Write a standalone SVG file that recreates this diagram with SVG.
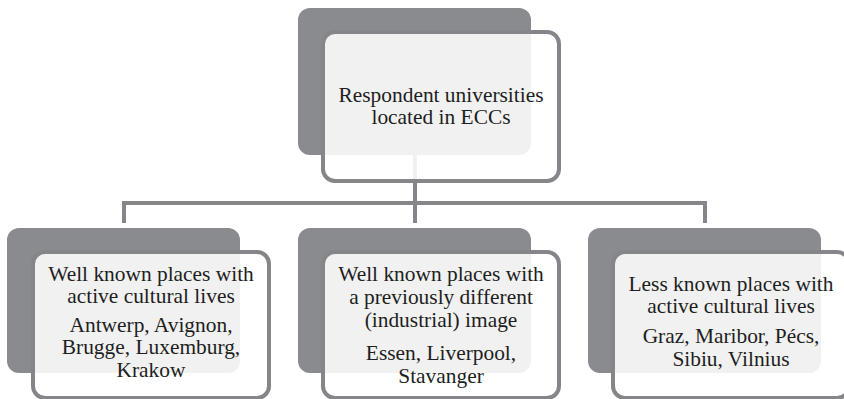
<svg xmlns="http://www.w3.org/2000/svg" width="844" height="399" viewBox="0 0 844 399">
<style>
.back{fill:#8a8b8f;}
.front{fill:#ffffff;fill-opacity:0.88;stroke:#85868a;stroke-width:4;}
.conn{fill:none;stroke:#85868a;stroke-width:4;stroke-linejoin:miter;}
text{font-family:'Liberation Serif','Times New Roman',serif;font-size:21.4px;fill:#1e1e1e;text-anchor:middle;}
</style>
<rect width="844" height="399" fill="#ffffff"/>
<g id="connectors">
<line class="conn" x1="415" y1="150" x2="415" y2="223"/>
<path class="conn" d="M124,223 V203 H705 V223"/>
</g>
<g id="node-top">
<rect class="back" x="298" y="8" width="233" height="147" rx="12"/>
<rect class="front" x="323" y="32" width="236" height="149" rx="12"/>
<text x="441" y="102">Respondent universities</text>
<text x="441" y="124">located in ECCs</text>
</g>
<g id="node-left">
<rect class="back" x="7" y="228" width="233" height="145" rx="12"/>
<rect class="front" x="33" y="252" width="236" height="146" rx="12"/>
<text x="151" y="281">Well known places with</text>
<text x="151" y="303">active cultural lives</text>
<text x="151" y="332">Antwerp, Avignon,</text>
<text x="151" y="354">Brugge, Luxemburg,</text>
<text x="151" y="377">Krakow</text>
</g>
<g id="node-middle">
<rect class="back" x="298" y="228" width="233" height="145" rx="12"/>
<rect class="front" x="323" y="252" width="236" height="146" rx="12"/>
<text x="441" y="281">Well known places with</text>
<text x="441" y="304">a previously different</text>
<text x="441" y="327">(industrial) image</text>
<text x="441" y="360">Essen, Liverpool,</text>
<text x="441" y="383">Stavanger</text>
</g>
<g id="node-right">
<rect class="back" x="588" y="228" width="233" height="145" rx="12"/>
<rect class="front" x="613" y="252" width="236" height="146" rx="12"/>
<text x="731" y="291">Less known places with</text>
<text x="731" y="313">active cultural lives</text>
<text x="731" y="343">Graz, Maribor, Pécs,</text>
<text x="731" y="366">Sibiu, Vilnius</text>
</g>
</svg>
